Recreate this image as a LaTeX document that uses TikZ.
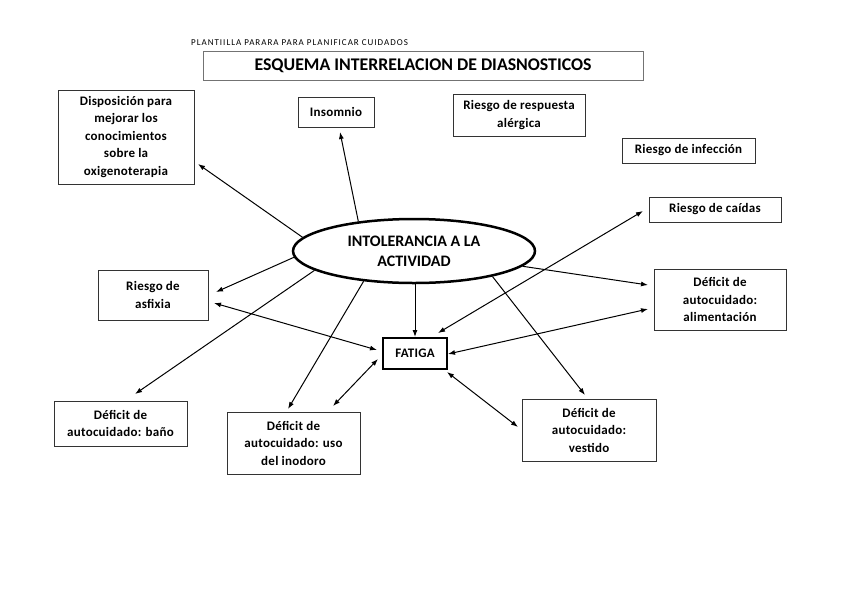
\documentclass[tikz,border=0pt]{standalone}
\usepackage{fontspec}
\setmainfont{Carlito}
\newfontfamily\hdrfont[LetterSpace=11]{Carlito}
\newfontfamily\boxfont[LetterSpace=2]{Carlito}
\usetikzlibrary{shapes.geometric,arrows.meta,calc}
\begin{document}
\begin{tikzpicture}[x=1pt,y=-1pt,
  box/.style={draw=black!80,line width=0.9pt,inner sep=0pt,align=center,font=\fontsize{13}{17.5}\selectfont\boxfont\bfseries},
  arr/.style={line width=1pt,-{Latex[length=7pt,width=5pt]}},
  darr/.style={line width=1pt,{Latex[length=7pt,width=5pt]}-{Latex[length=7pt,width=5pt]}}]
\useasboundingbox[fill=white] (0,0) rectangle (848,600);

% header
\node[anchor=west,inner sep=0pt,font=\fontsize{9}{10}\selectfont\hdrfont] (hdr) at (191,43) {PLANTIILLA PARARA PARA PLANIFICAR CUIDADOS};
\node[draw=black!55,line width=0.9pt,minimum width=440pt,minimum height=29pt,inner sep=0pt,font=\fontsize{17.8}{20}\selectfont\bfseries] (title) at (423,65.5) {ESQUEMA INTERRELACION DE DIASNOSTICOS};

% boxes
\node[box,minimum width=136pt,minimum height=94pt] (disp) at (126,137) {Disposición para\\mejorar los\\conocimientos\\sobre la\\oxigenoterapia};
\node[box,minimum width=76pt,minimum height=30pt] (ins) at (336,112) {Insomnio};
\node[box,minimum width=132pt,minimum height=42pt] (alerg) at (519,115) {Riesgo de respuesta\\alérgica};
\node[box,minimum width=133pt,minimum height=25pt] (infec) at (688.5,150.5) {Riesgo de infección};
\node[box,minimum width=132pt,minimum height=25pt] (caid) at (715,209.5) {Riesgo de caídas};
\node[ellipse,draw=black,line width=2.5pt,minimum width=242pt,minimum height=64pt,inner sep=0pt,align=center,font=\fontsize{16}{20}\selectfont\bfseries] (ell) at (414,251) {INTOLERANCIA A LA\\ACTIVIDAD};
\node[box,minimum width=110pt,minimum height=50pt] (asf) at (153,295) {Riesgo de\\asfixia};
\node[box,line width=2pt,draw=black,minimum width=64pt,minimum height=31pt] (fat) at (415,353.5) {FATIGA};
\node[box,minimum width=132pt,minimum height=61pt] (alim) at (720,299.5) {Déficit de\\autocuidado:\\alimentación};
\node[box,minimum width=133pt,minimum height=45pt] (bano) at (120.5,423.5) {Déficit de\\autocuidado: baño};
\node[box,minimum width=133pt,minimum height=62pt] (inod) at (293.5,443) {Déficit de\\autocuidado: uso\\del inodoro};
\node[box,minimum width=134pt,minimum height=62pt] (vest) at (589,430) {Déficit de\\autocuidado:\\vestido};

% free arrow ends
\coordinate (tdisp) at (198,164);
\coordinate (tins) at (340,132);
\coordinate (tasf1) at (216,292);
\coordinate (tasf2) at (214,303);
\coordinate (tfasf) at (377,350);
\coordinate (tbano) at (135,394);
\coordinate (tinod1) at (288,409);
\coordinate (tinod2) at (333,406);
\coordinate (tfinod) at (378,359);
\coordinate (tcaid) at (643,211);
\coordinate (tfcaid) at (438,333);
\coordinate (talim1) at (648,285);
\coordinate (talim2) at (648,309);
\coordinate (tfalim) at (448,354);
\coordinate (tvest1) at (585,395);
\coordinate (tvest2) at (518,427);
\coordinate (tfvest) at (447,372);

% connectors from ellipse
\draw[arr] (ell.173) -- (tdisp);
\draw[arr] (ell.152) -- (tins);
\draw[arr] (ell.183) -- (tasf1);
\draw[arr] (ell.191) -- (tbano);
\draw[arr] (ell.211.5) -- (tinod1);
\draw[arr] (fat.north |- ell.south) -- (fat.north);
\draw[arr] (ell.342) -- (tvest1);
\draw[arr] (ell.352.7) -- (talim1);

% double arrows with FATIGA
\draw[darr] (tasf2) -- (tfasf);
\draw[darr] (tinod2) -- (tfinod);
\draw[darr] (tcaid) -- (tfcaid);
\draw[darr] (talim2) -- (tfalim);
\draw[darr] (tfvest) -- (tvest2);
\end{tikzpicture}
\end{document}
